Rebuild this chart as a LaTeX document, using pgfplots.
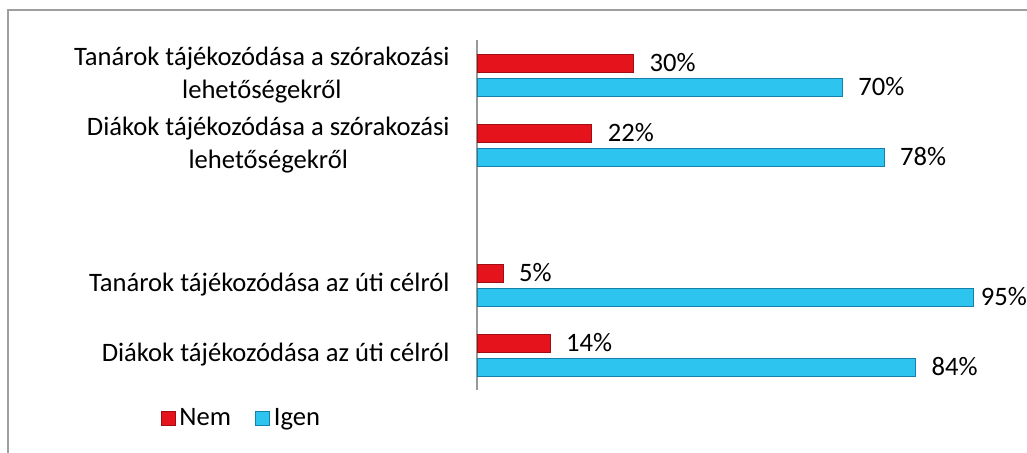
\documentclass[border=0pt]{standalone}
\usepackage{pgfplots}
\pgfplotsset{compat=1.18}
\usepackage{fontspec}
\setmainfont{Carlito}
\definecolor{redmid}{HTML}{E5131C}
\definecolor{redline}{HTML}{A00D12}
\definecolor{cyanmid}{HTML}{2DC5EF}
\definecolor{cyanline}{HTML}{1580A8}
\begin{document}
\begin{tikzpicture}
\path[use as bounding box] (0pt,0pt) rectangle (513.5pt,226pt);
\draw[gray!75, line width=1pt] (4pt,-5pt) -- (4pt,221pt) -- (520pt,221pt);
\begin{axis}[
  at={(238.5pt,31pt)}, anchor=south west,
  scale only axis, width=261pt, height=175pt,
  xbar, bar width=9pt,
  xmin=0, xmax=100, ymin=-0.5, ymax=4.5,
  hide x axis,
  axis y line*=left,
  y axis line style={-, draw=gray!80, line width=0.8pt},
  ytick={0,1,3,4},
  yticklabels={Diákok tájékozódása az úti célról, Tanárok tájékozódása az úti célról, {Diákok tájékozódása a szórakozási\\lehetőségekről}, {Tanárok tájékozódása a szórakozási\\lehetőségekről}},
  major tick length=0pt,
  yticklabel style={align=center, inner sep=0pt, xshift=-13.5pt, font=\fontsize{13.3}{16.5}\selectfont},
  /pgf/number format/assume math mode=true,
  nodes near coords={\pgfmathprintnumber{\pgfplotspointmeta}\%},
  every node near coord/.append style={font=\fontsize{13.3}{16}\selectfont, anchor=west, xshift=4.5pt, text=black},
  coordinate style/.condition={x>90}{xshift=-4pt},
  legend style={at={(-0.607,-0.08)}, anchor=west, draw=none, fill=none, inner sep=0pt,
    font=\fontsize{13.3}{16}\selectfont, legend columns=2,
    /tikz/every even column/.append style={column sep=10pt}},
  legend image code/.code={\draw[#1] (0pt,-3.5pt) rectangle (7pt,3.5pt);},
]
\addplot[bar shift=6pt, draw=redline, fill=redmid]
  coordinates {(14,0) (5,1) (22,3) (30,4)};
\addplot[bar shift=-6pt, draw=cyanline, fill=cyanmid]
  coordinates {(84,0) (95,1) (78,3) (70,4)};
\legend{Nem, Igen}
\end{axis}
\end{tikzpicture}
\end{document}
